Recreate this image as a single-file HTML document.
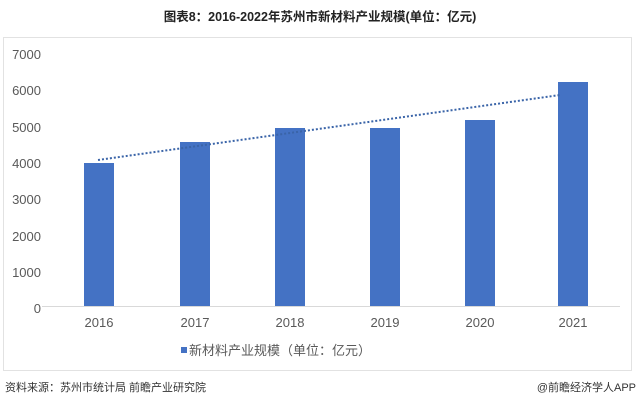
<!DOCTYPE html><html><head><meta charset="utf-8"><style>
body{margin:0;width:640px;height:405px;background:#fff;overflow:hidden;font-family:"Liberation Sans","Noto Sans CJK SC",sans-serif;}
</style></head><body>
<svg width="640" height="405" xmlns="http://www.w3.org/2000/svg" style="position:absolute;left:0;top:0">
<text x="320" y="21" text-anchor="middle" font-size="12.5" font-weight="bold" fill="#222" font-family="Liberation Sans,Noto Sans CJK SC,sans-serif">图表8：2016-2022年苏州市新材料产业规模(单位：亿元)</text>
<rect x="3.5" y="37.5" width="628" height="333" fill="none" stroke="#e2e2e2"/>
<g font-size="13" fill="#595959" text-anchor="end" font-family="Liberation Sans,sans-serif">
<text x="41" y="59">7000</text><text x="41" y="95">6000</text><text x="41" y="132">5000</text><text x="41" y="168">4000</text><text x="41" y="204">3000</text><text x="41" y="241">2000</text><text x="41" y="277">1000</text><text x="41" y="313">0</text>
</g>
<line x1="42" y1="306.5" x2="620" y2="306.5" stroke="#d9d9d9"/>
<g fill="#4472c4">
<rect x="84" y="163" width="30" height="143"/>
<rect x="180" y="142" width="30" height="164"/>
<rect x="275" y="128" width="30" height="178"/>
<rect x="370" y="128" width="30" height="178"/>
<rect x="465" y="120" width="30" height="186"/>
<rect x="558" y="82" width="30" height="224"/>
</g>
<line x1="98" y1="160" x2="560" y2="95" stroke="#3a64a8" stroke-width="2" stroke-dasharray="2,2"/>
<g font-size="13" fill="#595959" text-anchor="middle" font-family="Liberation Sans,sans-serif">
<text x="99" y="327">2016</text><text x="195" y="327">2017</text><text x="290" y="327">2018</text><text x="385" y="327">2019</text><text x="480" y="327">2020</text><text x="573" y="327">2021</text>
</g>
<rect x="181" y="347" width="6" height="6" fill="#4472c4"/>
<text x="189" y="355" font-size="13" fill="#595959" font-family="Liberation Sans,Noto Sans CJK SC,sans-serif">新材料产业规模（单位：亿元）</text>
<text x="5" y="391" font-size="11" fill="#333" font-family="Liberation Sans,Noto Sans CJK SC,sans-serif">资料来源：苏州市统计局 前瞻产业研究院</text>
<text x="636" y="391" text-anchor="end" font-size="11" fill="#333" font-family="Liberation Sans,Noto Sans CJK SC,sans-serif">@前瞻经济学人APP</text>
</svg>
</body></html>
